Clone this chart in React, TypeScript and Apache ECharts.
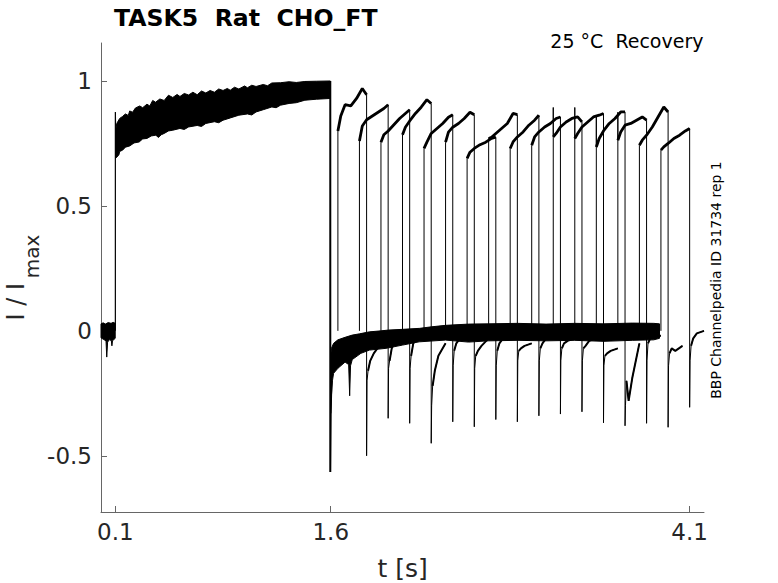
import React, { useEffect, useRef } from "react";
import * as echarts from "echarts";

const FONT = '"DejaVu Sans", sans-serif';

// axis ticks
const xTickValues = [0.1, 1.6, 4.1];
const yTickValues = [-0.5, 0, 0.5, 1];

// holding level before the conditioning pulse: envelope of the overlaid sweeps [t, I/Imax]
const holdUpper = [[0, 0.028], [0.015, 0.032], [0.03, 0.027], [0.05, 0.033], [0.07, 0.03], [0.085, 0.034], [0.099, 0.03]];
const holdLower = [[0, -0.028], [0.02, -0.035], [0.035, -0.04], [0.04, -0.105], [0.046, -0.045], [0.06, -0.035], [0.072, -0.04], [0.076, -0.06], [0.08, -0.04], [0.099, -0.03]];

// conditioning pulse 0.1 – 1.6 s: envelope of the overlaid sweeps
const condUpper = [[0.101, 0.8], [0.11, 0.83], [0.13, 0.85], [0.15, 0.858], [0.17, 0.868], [0.19, 0.862], [0.2, 0.88], [0.22, 0.875], [0.24, 0.892], [0.27, 0.9], [0.29, 0.893], [0.32, 0.907], [0.34, 0.9], [0.36, 0.922], [0.38, 0.915], [0.41, 0.928], [0.44, 0.922], [0.47, 0.943], [0.5, 0.934], [0.53, 0.946], [0.55, 0.938], [0.58, 0.95], [0.61, 0.944], [0.64, 0.955], [0.67, 0.945], [0.7, 0.96], [0.73, 0.952], [0.76, 0.962], [0.79, 0.955], [0.82, 0.968], [0.85, 0.962], [0.88, 0.97], [0.9, 0.963], [0.93, 0.975], [0.96, 0.968], [1.0, 0.98], [1.02, 0.973], [1.05, 0.983], [1.08, 0.978], [1.13, 0.986], [1.16, 0.981], [1.19, 0.992], [1.25, 0.993], [1.31, 0.997], [1.36, 0.994], [1.42, 0.998], [1.5, 0.999], [1.597, 1.0]];
const condLower = [[0.101, 0.69], [0.11, 0.695], [0.125, 0.705], [0.13, 0.718], [0.15, 0.723], [0.17, 0.735], [0.2, 0.74], [0.23, 0.752], [0.266, 0.756], [0.29, 0.768], [0.32, 0.77], [0.35, 0.78], [0.382, 0.783], [0.4, 0.774], [0.42, 0.785], [0.44, 0.79], [0.47, 0.8], [0.5, 0.803], [0.55, 0.81], [0.58, 0.806], [0.61, 0.816], [0.67, 0.822], [0.7, 0.818], [0.73, 0.83], [0.79, 0.837], [0.82, 0.833], [0.85, 0.843], [0.9, 0.852], [0.96, 0.863], [1.02, 0.868], [1.05, 0.864], [1.08, 0.876], [1.13, 0.885], [1.19, 0.896], [1.22, 0.893], [1.25, 0.903], [1.31, 0.91], [1.36, 0.913], [1.42, 0.923], [1.5, 0.927], [1.597, 0.93]];

// recovery interval after 1.6 s: envelope of the sweeps held near zero
const recUpper = [[1.6, -0.1], [1.605, -0.07], [1.62, -0.05], [1.65, -0.036], [1.7, -0.026], [1.75, -0.017], [1.8, -0.012], [1.87, -0.004], [1.95, 0.0], [2.0, 0.003], [2.1, 0.006], [2.22, 0.01], [2.3, 0.016], [2.4, 0.022], [2.56, 0.027], [2.7, 0.028], [2.9, 0.03], [3.1, 0.027], [3.3, 0.03], [3.5, 0.028], [3.7, 0.031], [3.85, 0.03], [3.89, 0.028]];
const recLower = [[1.6, -0.33], [1.605, -0.26], [1.612, -0.2], [1.62, -0.17], [1.65, -0.15], [1.7, -0.125], [1.725, -0.135], [1.732, -0.26], [1.738, -0.14], [1.75, -0.115], [1.81, -0.09], [1.87, -0.077], [1.985, -0.07], [2.1, -0.057], [2.216, -0.044], [2.4, -0.037], [2.56, -0.045], [2.7, -0.04], [2.9, -0.038], [3.1, -0.04], [3.3, -0.038], [3.5, -0.042], [3.7, -0.038], [3.85, -0.036], [3.89, -0.03]];

// step onto the conditioning pulse and repolarisation at 1.6 s
const condOnset = [[0.1, 0], [0.1, 0.876], [0.102, 0.8]];
const condOffset = [[1.597, 1.0], [1.597, -0.565], [1.6, -0.32], [1.605, -0.2]];

// test pulses (0.2 s long)
const testStarts = [1.65, 1.8, 1.95, 2.1, 2.25, 2.4, 2.55, 2.7, 2.85, 3.0, 3.15, 3.3, 3.45, 3.6, 3.75, 3.9];
const testOffsets = [0, 0.02, 0.05, 0.09, 0.13, 0.17, 0.2];
const testLevels = [
  [0.8, 0.86, 0.905, 0.9, 0.93, 0.97, 0.945],
  [0.76, 0.82, 0.845, 0.86, 0.875, 0.89, 0.905],
  [0.755, 0.785, 0.8, 0.825, 0.85, 0.87, 0.885],
  [0.785, 0.815, 0.84, 0.87, 0.895, 0.925, 0.91],
  [0.73, 0.755, 0.79, 0.81, 0.83, 0.855, 0.865],
  [0.755, 0.795, 0.815, 0.83, 0.85, 0.875, 0.865],
  [0.69, 0.715, 0.73, 0.745, 0.755, 0.77, 0.775],
  [0.77, 0.775, 0.79, 0.81, 0.83, 0.87, 0.865],
  [0.73, 0.756, 0.776, 0.796, 0.823, 0.843, 0.863],
  [0.743, 0.776, 0.796, 0.816, 0.83, 0.85, 0.856],
  [0.776, 0.79, 0.816, 0.836, 0.85, 0.856, 0.836],
  [0.77, 0.79, 0.816, 0.836, 0.856, 0.863, 0.87],
  [0.736, 0.77, 0.8, 0.83, 0.85, 0.876, 0.876],
  [0.763, 0.796, 0.823, 0.83, 0.843, 0.856, 0.843],
  [0.743, 0.763, 0.783, 0.816, 0.856, 0.896, 0.876],
  [0.723, 0.736, 0.75, 0.77, 0.783, 0.8, 0.81],
];
const testOnsetPeak = [0.8, 0.76, 0.755, 0.785, 0.73, 0.755, 0.69, 0.77, 0.73, 0.743, 0.894, 0.894, 0.86, 0.875, 0.743, 0.723];
const testEndMin = [-0.5, -0.35, -0.37, -0.45, -0.364, -0.384, -0.355, -0.364, -0.34, -0.333, -0.324, -0.368, -0.38, -0.37, -0.386, -0.306];
const tailOffsets = [0.003, 0.01, 0.025, 0.05, 0.1];
const testTails = [
  [-0.2, -0.16, -0.12, -0.09, -0.05],
  [-0.15, -0.12, -0.07, -0.04, -0.02],
  [-0.15, -0.1, -0.05, -0.03, -0.02],
  [-0.3, -0.22, -0.16, -0.1, -0.05],
  [-0.14, -0.08, -0.05, -0.03, -0.02],
  [-0.15, -0.1, -0.08, -0.06, -0.03],
  [-0.14, -0.08, -0.05, -0.03, -0.02],
  [-0.12, -0.08, -0.07, -0.06, -0.05],
  [-0.12, -0.07, -0.05, -0.03, -0.02],
  [-0.12, -0.07, -0.05, -0.04, -0.03],
  [-0.12, -0.07, -0.06, -0.04, -0.03],
  [-0.14, -0.1, -0.09, -0.08, -0.07],
  [-0.3, -0.2, -0.28, -0.19, -0.05],
  [-0.12, -0.05, -0.03, -0.02, -0.02],
  [-0.14, -0.09, -0.07, -0.08, -0.06],
  [-0.12, -0.06, -0.03, -0.01, 0.0],
];

const bandSeries = (upper: number[][], lower: number[][]) => ({
  type: "custom",
  coordinateSystem: "cartesian2d",
  silent: true,
  data: [[0, 0]],
  z: 2,
  renderItem: (_p: any, api: any) => {
    const pts = [...upper, ...lower.slice().reverse()].map((p) => api.coord(p));
    return {
      type: "polygon",
      shape: { points: pts },
      style: { fill: "#000", stroke: "#000", lineWidth: 1 },
    };
  },
});

const lineSeries = (data: number[][], width: number) => ({
  type: "line",
  data,
  symbol: "none",
  showSymbol: false,
  silent: true,
  z: 3,
  lineStyle: { color: "#000", width },
});

function buildSeries() {
  const series: any[] = [
    bandSeries(holdUpper, holdLower),
    bandSeries(condUpper, condLower),
    bandSeries(recUpper, recLower),
    lineSeries(condOnset, 1.2),
    lineSeries(condOffset, 2),
  ];
  testStarts.forEach((s, i) => {
    const lv = testLevels[i];
    const e = s + testOffsets[testOffsets.length - 1];
    const level = testOffsets.map((o, j) => [s + o, lv[j]]);
    const tail = tailOffsets.map((o, j) => [e + o, testTails[i][j]]);
    const thin = [[s, 0], [s, testOnsetPeak[i]], ...level, [e, testEndMin[i]], ...tail];
    series.push(lineSeries(thin, 1));
    series.push(lineSeries(level, 2.8));
    series.push(lineSeries(tail.slice(1), 2));
  });
  return series;
}

const axisColor = "#666";
const labelColor = "#262626";

export default function App() {
  const ref = useRef<HTMLDivElement>(null);
  useEffect(() => {
    document.body.style.margin = "0";
    const chart = echarts.init(ref.current!, undefined, { renderer: "svg" });
    chart.setOption({
      animation: false,
      backgroundColor: "#fff",
      textStyle: { fontFamily: FONT },
      grid: { left: 101, right: 74, top: 43, bottom: 71 },
      xAxis: {
        type: "value",
        min: 0,
        max: 4.2,
        axisLine: { show: true, onZero: false, lineStyle: { color: axisColor, width: 1 } },
        axisTick: { show: true, inside: true, length: 6, customValues: xTickValues, lineStyle: { color: axisColor } },
        axisLabel: { customValues: xTickValues, fontSize: 23, color: labelColor, fontFamily: FONT, margin: 8, formatter: (v: number) => String(v) },
        splitLine: { show: false },
      },
      yAxis: {
        type: "value",
        min: -0.725,
        max: 1.152,
        axisLine: { show: true, onZero: false, lineStyle: { color: axisColor, width: 1 } },
        axisTick: { show: true, inside: true, length: 6, customValues: yTickValues, lineStyle: { color: axisColor } },
        axisLabel: { customValues: yTickValues, fontSize: 23, color: labelColor, fontFamily: FONT, margin: 9, formatter: (v: number) => String(v) },
        splitLine: { show: false },
      },
      graphic: [
        { type: "text", x: 114, y: 17.7, silent: true, style: { text: "TASK5  Rat  CHO_FT", fontSize: 23.6, fontWeight: "bold", fontFamily: FONT, fill: "#000", align: "left", verticalAlign: "middle" } },
        { type: "text", x: 703.5, y: 40.5, silent: true, style: { text: "25 °C  Recovery", fontSize: 19, fontFamily: FONT, fill: "#000", align: "right", verticalAlign: "middle" } },
        { type: "text", x: 715.5, y: 280, rotation: Math.PI / 2, silent: true, style: { text: "BBP Channelpedia ID 31734 rep 1", fontSize: 14, fontFamily: FONT, fill: "#000", align: "center", verticalAlign: "middle" } },
        { type: "text", x: 15.8, y: 301.7, rotation: Math.PI / 2, silent: true, style: { text: "I / I", fontSize: 24, fontFamily: FONT, fill: labelColor, align: "center", verticalAlign: "middle" } },
        { type: "text", x: 31.5, y: 256.5, rotation: Math.PI / 2, silent: true, style: { text: "max", fontSize: 20, fontFamily: FONT, fill: labelColor, align: "center", verticalAlign: "middle" } },
        { type: "text", x: 402.7, y: 568, silent: true, style: { text: "t [s]", fontSize: 25, fontFamily: FONT, fill: labelColor, align: "center", verticalAlign: "middle" } },
      ],
      series: buildSeries(),
    });
    return () => chart.dispose();
  }, []);
  return <div ref={ref} style={{ position: "absolute", left: 0, top: 0, width: 778, height: 583 }} />;
}
